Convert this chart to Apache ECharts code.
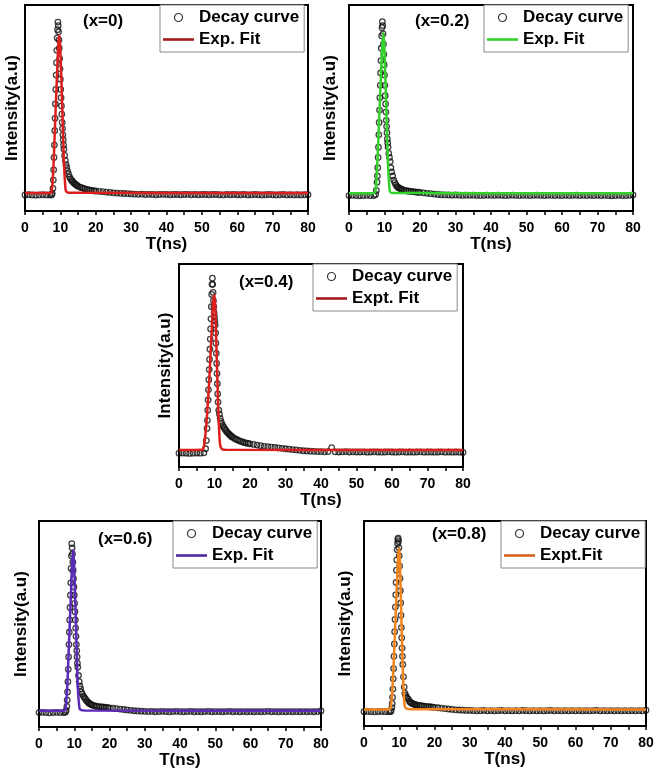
<!DOCTYPE html>
<html>
<head>
<meta charset="utf-8">
<script src="https://cdn.jsdelivr.net/npm/echarts@6/dist/echarts.min.js"></script>
<style>
html,body{margin:0;padding:0;background:#fff;}
#chart{width:660px;height:777px;}
</style>
</head>
<body>
<div id="chart"></div>
<script>
// ---- shared time samples (ns) for decay curves ----
const T = [0,1,2,3,4,5,6,7,
7.5,7.7,7.9,
8.0,8.1,8.2,8.3,8.4,8.5,8.6,8.7,8.8,8.9,
9.0,9.1,9.2,9.3,9.4,9.5,9.6,9.7,9.8,9.9,
10.0,10.1,10.2,10.3,10.4,10.5,10.6,10.7,10.8,10.9,
11.0,11.2,11.4,11.6,11.8,12.0,
12.3,12.6,12.9,13.2,13.5,13.8,14.1,14.4,14.7,15,
15.5,16,16.5,17,17.5,18,18.5,19,19.5,20,
21,22,23,24,25,26,27,28,29,30,
31,32,33,34,35,36,37,38,39,40,
41,42,43,44,45,46,47,48,49,50,
51,52,53,54,55,56,57,58,59,60,
61,62,63,64,65,66,67,68,69,70,
71,72,73,74,75,76,77,78,79,80];

// ---- decay curve intensities (a.u., normalised) ----
const decayX0 = [0.078,0.079,0.078,0.077,0.078,0.079,0.078,0.078,
0.078,0.085,0.11,
0.15,0.2,0.26,0.32,0.39,0.45,0.52,0.59,0.66,0.72,
0.78,0.84,0.88,0.917,0.9,0.87,0.83,0.79,0.74,0.69,
0.64,0.59,0.55,0.51,0.47,0.43,0.4,0.37,0.345,0.32,
0.3,0.27,0.245,0.225,0.21,0.195,
0.18,0.165,0.155,0.148,0.142,0.136,0.132,0.128,0.124,0.12,
0.116,0.113,0.11,0.107,0.105,0.103,0.101,0.099,0.098,0.097,
0.095,0.094,0.092,0.09,0.088,0.087,0.086,0.085,0.084,0.083,
0.082,0.081,0.082,0.08,0.081,0.08,0.079,0.08,0.081,0.08,
0.079,0.08,0.08,0.079,0.08,0.081,0.079,0.08,0.079,0.08,
0.08,0.079,0.08,0.08,0.079,0.078,0.08,0.079,0.08,0.079,
0.079,0.08,0.078,0.079,0.08,0.079,0.078,0.079,0.08,0.079,
0.078,0.079,0.08,0.078,0.079,0.078,0.079,0.078,0.079,0.079];

const decayX02 = [0.075,0.076,0.075,0.074,0.075,0.076,0.075,0.075,
0.08,0.1,0.14,
0.17,0.21,0.26,0.31,0.37,0.43,0.49,0.55,0.61,0.67,
0.73,0.79,0.85,0.89,0.919,0.9,0.86,0.81,0.76,0.71,
0.66,0.61,0.56,0.52,0.48,0.44,0.41,0.38,0.35,0.33,
0.31,0.28,0.26,0.24,0.21,0.19,
0.17,0.15,0.138,0.128,0.12,0.115,0.112,0.109,0.106,0.104,
0.101,0.099,0.097,0.096,0.095,0.094,0.093,0.092,0.091,0.09,
0.088,0.086,0.084,0.082,0.08,0.079,0.078,0.078,0.077,0.078,
0.077,0.076,0.077,0.076,0.077,0.076,0.075,0.076,0.077,0.076,
0.076,0.077,0.076,0.075,0.076,0.077,0.076,0.075,0.076,0.076,
0.075,0.076,0.077,0.076,0.075,0.076,0.076,0.075,0.076,0.075,
0.076,0.075,0.076,0.077,0.075,0.076,0.075,0.076,0.075,0.076,
0.075,0.076,0.075,0.074,0.075,0.076,0.075,0.075,0.076,0.078];

const decayX04 = [0.068,0.069,0.068,0.067,0.068,0.069,0.068,0.07,
0.09,0.13,0.19,
0.23,0.28,0.33,0.38,0.43,0.48,0.53,0.58,0.63,0.68,
0.73,0.79,0.85,0.9,0.93,0.9,0.86,0.82,0.79,0.76,
0.74,0.72,0.7,0.66,0.61,0.56,0.51,0.46,0.41,0.36,
0.32,0.28,0.26,0.24,0.225,0.215,
0.205,0.196,0.188,0.18,0.173,0.167,0.162,0.157,0.152,0.148,
0.142,0.137,0.133,0.129,0.126,0.123,0.12,0.118,0.116,0.114,
0.111,0.108,0.105,0.102,0.1,0.098,0.096,0.094,0.092,0.09,
0.088,0.086,0.084,0.082,0.08,0.079,0.078,0.077,0.076,0.076,
0.075,0.076,0.095,0.075,0.074,0.075,0.076,0.074,0.075,0.074,
0.074,0.075,0.073,0.074,0.075,0.074,0.073,0.074,0.075,0.074,
0.073,0.074,0.075,0.073,0.074,0.073,0.074,0.075,0.073,0.074,
0.074,0.073,0.074,0.075,0.073,0.074,0.073,0.074,0.073,0.072];

const decayX06 = [0.07,0.071,0.07,0.069,0.07,0.071,0.07,0.07,
0.072,0.08,0.1,
0.13,0.17,0.22,0.28,0.34,0.4,0.46,0.52,0.58,0.64,
0.7,0.77,0.83,0.89,0.87,0.84,0.8,0.76,0.72,0.68,
0.64,0.6,0.56,0.52,0.48,0.44,0.4,0.37,0.34,0.31,
0.29,0.25,0.22,0.2,0.185,0.17,
0.16,0.15,0.142,0.135,0.128,0.122,0.117,0.113,0.11,0.107,
0.104,0.102,0.1,0.099,0.098,0.097,0.096,0.095,0.094,0.093,
0.091,0.089,0.087,0.085,0.083,0.081,0.079,0.078,0.077,0.076,
0.075,0.076,0.074,0.075,0.076,0.075,0.074,0.075,0.076,0.075,
0.074,0.075,0.076,0.074,0.075,0.074,0.075,0.076,0.074,0.075,
0.075,0.074,0.075,0.076,0.074,0.075,0.074,0.075,0.074,0.075,
0.074,0.075,0.074,0.075,0.076,0.074,0.075,0.074,0.075,0.074,
0.075,0.074,0.075,0.074,0.075,0.074,0.075,0.074,0.075,0.078];

const decayX08 = [0.07,0.071,0.07,0.069,0.07,0.071,0.07,0.07,
0.07,0.075,0.09,
0.11,0.14,0.18,0.23,0.28,0.34,0.4,0.46,0.52,0.58,
0.64,0.7,0.76,0.81,0.86,0.89,0.91,0.916,0.9,0.87,
0.83,0.78,0.72,0.66,0.6,0.54,0.48,0.43,0.38,0.34,
0.3,0.24,0.19,0.16,0.15,0.142,
0.136,0.13,0.12,0.115,0.112,0.109,0.107,0.105,0.103,0.102,
0.1,0.099,0.098,0.097,0.096,0.095,0.094,0.093,0.092,0.091,
0.089,0.087,0.085,0.083,0.081,0.079,0.078,0.077,0.076,0.076,
0.075,0.074,0.075,0.076,0.074,0.075,0.074,0.075,0.076,0.074,
0.075,0.074,0.075,0.074,0.076,0.075,0.074,0.075,0.074,0.075,
0.074,0.075,0.076,0.074,0.075,0.074,0.075,0.074,0.075,0.074,
0.075,0.074,0.075,0.074,0.075,0.076,0.074,0.075,0.074,0.075,
0.074,0.075,0.074,0.075,0.074,0.075,0.074,0.075,0.074,0.077];

// ---- fitted curves ----
const tFit = [0,6.5,7,7.5,8,8.5,9,9.4,9.7,10,10.5,11,11.5,12,13,80];
const fitX0  = [0.087,0.087,0.087,0.09,0.2,0.42,0.64,0.8,0.854,0.78,0.52,0.24,0.1,0.09,0.088,0.087];
const fitX02 = [0.086,0.086,0.086,0.1,0.24,0.45,0.66,0.81,0.863,0.78,0.5,0.22,0.095,0.088,0.087,0.086];
const fitX04 = [0.084,0.085,0.1,0.17,0.28,0.42,0.6,0.74,0.83,0.847,0.62,0.32,0.12,0.09,0.085,0.084];
const fitX06 = [0.079,0.079,0.079,0.085,0.19,0.4,0.62,0.79,0.86,0.77,0.49,0.2,0.09,0.082,0.08,0.079];
const fitX08 = [0.081,0.081,0.081,0.085,0.16,0.34,0.55,0.72,0.83,0.867,0.6,0.28,0.1,0.085,0.082,0.081];

// ---- text ----
const panelLabels = ['(x=0)','(x=0.2)','(x=0.4)','(x=0.6)','(x=0.8)'];
const decayName = 'Decay curve';
const fitNames = ['Exp. Fit','Exp. Fit','Expt. Fit','Exp. Fit','Expt.Fit'];
const xName = 'T(ns)';
const yName = 'Intensity(a.u)';

// ---- layout / style (not data) ----
const FONT = '"Liberation Sans", Arial, sans-serif';
const panels = [
  {grid:{left:25, top:5, width:283, height:206}, decay:decayX0, fit:fitX0, color:'#dc1f1c', legColor:'#a51b1b', yGap:4.5, lab:{left:83, top:13}, leg:{left:160, top:5}},
  {grid:{left:349, top:5, width:284, height:206}, decay:decayX02, fit:fitX02, color:'#33d22b', legColor:'#33d22b', yGap:10, lab:{left:415, top:13}, leg:{left:484, top:5}},
  {grid:{left:179, top:264, width:284, height:203}, decay:decayX04, fit:fitX04, color:'#dc1f1c', legColor:'#a51b1b', yGap:5.5, lab:{left:239, top:274}, leg:{left:313, top:264}},
  {grid:{left:39, top:521, width:282, height:206}, decay:decayX06, fit:fitX06, color:'#5a2bb8', legColor:'#4a2aa0', yGap:9, lab:{left:98, top:531}, leg:{left:173, top:521}},
  {grid:{left:364, top:521, width:282, height:205}, decay:decayX08, fit:fitX08, color:'#f2841c', legColor:'#d8621a', yGap:10.5, lab:{left:432, top:526}, leg:{left:501, top:521}}
];

const grid=[], xAxis=[], yAxis=[], series=[], legend=[], title=[];
panels.forEach((p,i)=>{
  grid.push(Object.assign({show:true, borderColor:'#000', borderWidth:2, backgroundColor:'#fff', containLabel:false}, p.grid));
  xAxis.push({
    gridIndex:i, type:'value', min:0, max:80, interval:10,
    name:xName, nameLocation:'middle', nameGap:25,
    nameTextStyle:{fontFamily:FONT, fontWeight:'bold', fontSize:17, color:'#000'},
    axisLine:{show:true, onZero:false, lineStyle:{color:'#000', width:2}},
    axisTick:{show:true, inside:false, length:4, lineStyle:{color:'#000', width:1.5}},
    minorTick:{show:true, splitNumber:2, length:4, lineStyle:{color:'#000', width:1.5}},
    axisLabel:{fontFamily:FONT, fontWeight:'bold', fontSize:14, color:'#000', margin:10},
    splitLine:{show:false}
  });
  yAxis.push({
    gridIndex:i, type:'value', min:0, max:1,
    name:yName, nameLocation:'middle', nameGap:p.yGap, nameRotate:90,
    nameTextStyle:{fontFamily:FONT, fontWeight:'bold', fontSize:17, color:'#000'},
    axisLine:{show:true, onZero:false, lineStyle:{color:'#000', width:2}},
    axisTick:{show:false}, axisLabel:{show:false}, splitLine:{show:false}
  });
  series.push({
    name:decayName, type:'scatter', xAxisIndex:i, yAxisIndex:i,
    data:T.map((t,k)=>[t,p.decay[k]]),
    symbol:'circle', symbolSize:5.5, z:2,
    itemStyle:{color:'rgba(255,255,255,0)', borderColor:'#111', borderWidth:1.3},
    animation:false
  });
  series.push({
    name:fitNames[i], type:'line', xAxisIndex:i, yAxisIndex:i,
    data:tFit.map((t,k)=>[t,p.fit[k]]),
    smooth:0.25, showSymbol:false, symbol:'none', z:3,
    lineStyle:{color:p.color, width:2.5}, itemStyle:{color:p.color},
    animation:false
  });
  legend.push({
    orient:'vertical', left:p.leg.left, top:p.leg.top,
    padding:[3,5,3,3], itemGap:3, itemWidth:31, itemHeight:8,
    backgroundColor:'#fff', borderColor:'#8a8a8a', borderWidth:1,
    textStyle:{fontFamily:FONT, fontWeight:'bold', fontSize:17, color:'#000', lineHeight:19},
    selectedMode:false,
    data:[
      {name:decayName, icon:'circle', itemStyle:{color:'rgba(255,255,255,0)', borderColor:'#000', borderWidth:1.2}},
      {name:fitNames[i], icon:'path://M0,0 L31,0 L31,2.6 L0,2.6 Z', itemStyle:{color:p.legColor, borderWidth:0}}
    ]
  });
  title.push({
    text:panelLabels[i], left:p.lab.left, top:p.lab.top, padding:0,
    textStyle:{fontFamily:FONT, fontWeight:'bold', fontSize:17, color:'#000'}
  });
});

const chart = echarts.init(document.getElementById('chart'), null, {renderer:'canvas'});
chart.setOption({
  backgroundColor:'#fff',
  animation:false,
  title, legend, grid, xAxis, yAxis, series
});
</script>
</body>
</html>
